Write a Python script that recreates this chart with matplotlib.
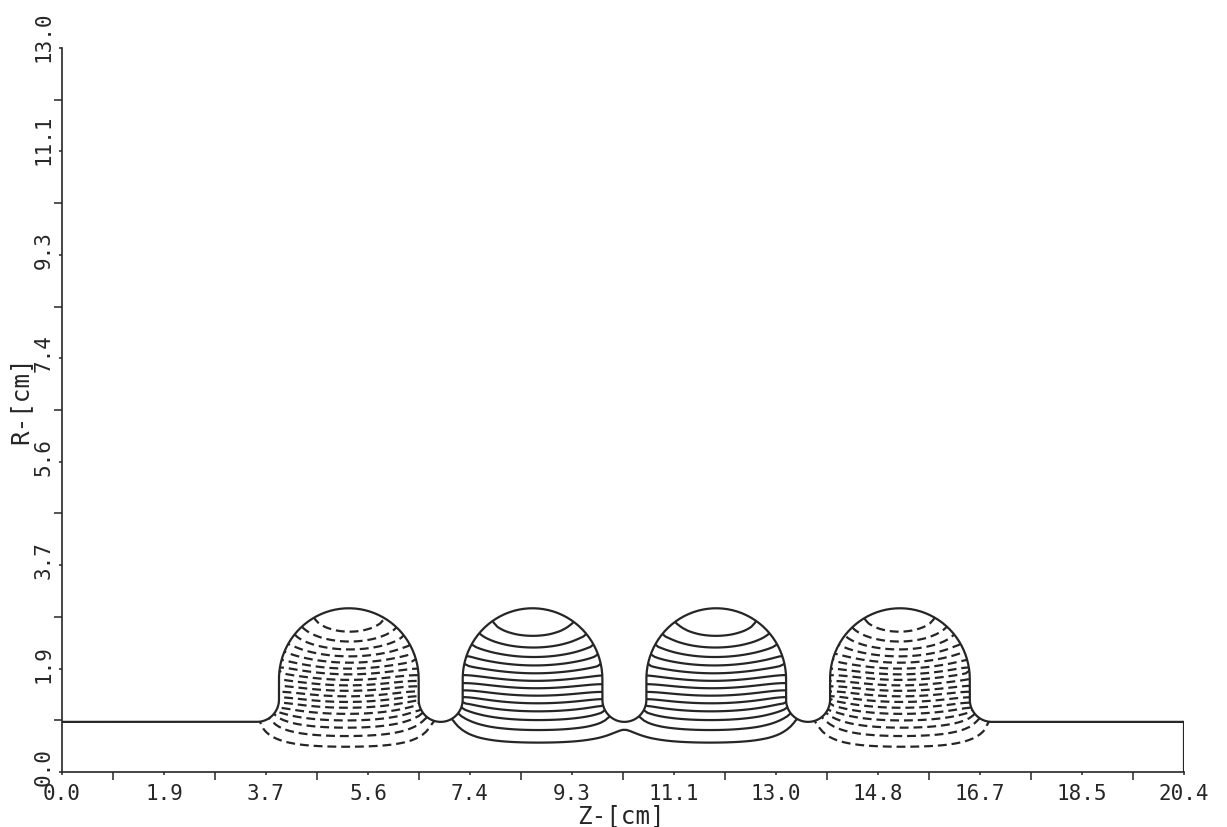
import numpy as np
import matplotlib.pyplot as plt
from matplotlib.patches import Polygon
from matplotlib import transforms

# cavity geometry, cm
pipe_r = 0.90                     # beam pipe radius
iris_z = np.array([3.545, 6.885, 10.225, 13.565, 16.905])
cell_z = np.array([5.215, 8.555, 11.895, 15.235])
dome_a = 1.27                     # half width of each cell dome
dome_top = 2.94                   # equator radius
nose_rho = 0.40                   # iris nose radius
z_end = 20.4

# number of field lines drawn for each sign
n_pos = 13   # solid, cells 2 and 3
n_neg = 18   # dashed, cells 1 and 4

x_ticks = np.linspace(0, 20.4, 12)
x_labels = ['0.0', '1.9', '3.7', '5.6', '7.4', '9.3', '11.1', '13.0',
            '14.8', '16.7', '18.5', '20.4']
y_ticks = np.linspace(0, 13.0, 8)
y_labels = ['0.0', '1.9', '3.7', '5.6', '7.4', '9.3', '11.1', '13.0']

ink = '#262626'
plt.rcParams['font.family'] = ['DejaVu Sans Mono', 'DejaVu Sans']

dome_rc = dome_top - dome_a
nose_rc = pipe_r + nose_rho


def wall_r(z):
    R = np.full_like(z, pipe_r, dtype=float)
    for c in cell_z:
        d = np.abs(z - c)
        m = d <= dome_a
        R[m] = dome_rc + np.sqrt(dome_a**2 - d[m]**2)
    for zi in iris_z:
        d = np.abs(z - zi)
        m = d < nose_rho
        R[m] = nose_rc - np.sqrt(nose_rho**2 - d[m]**2)
    R[(z < iris_z[0]) | (z > iris_z[-1])] = pipe_r
    return R


# outline of the cavity wall
pts = [(0.0, pipe_r)]
t = np.linspace(-np.pi / 2, 0, 20)
pts += list(zip(iris_z[0] + nose_rho * np.cos(t), nose_rc + nose_rho * np.sin(t)))
for k, c in enumerate(cell_z):
    th = np.linspace(np.pi, 0, 90)
    pts += list(zip(c + dome_a * np.cos(th), dome_rc + dome_a * np.sin(th)))
    zi = iris_z[k + 1]
    if k < len(cell_z) - 1:
        t = np.linspace(np.pi, 2 * np.pi, 40)
    else:
        t = np.linspace(np.pi, 1.5 * np.pi, 20)
    pts += list(zip(zi + nose_rho * np.cos(t), nose_rc + nose_rho * np.sin(t)))
pts += [(z_end, pipe_r), (z_end, 0.0)]
pts = np.array(pts)

# TM0 mode: -div((1/r) grad psi) = k^2 psi / r, psi = r*H_phi,
# solved on half of the structure (mirror plane at the middle iris)
h = 0.065
zmid = iris_z[2]
nz = int((zmid - 1.2) / h)
zn = zmid - h / 2 - h * np.arange(nz)[::-1]
rn = h * np.arange(int(3.4 / h))
nr = len(rn)
Zg, Rg = np.meshgrid(zn, rn, indexing='ij')
inside = (Rg < wall_r(Zg)) & (Rg > 0)
n = inside.sum()
idx = -np.ones(Zg.shape, dtype=int)
idx[inside] = np.arange(n)
ii, jj = np.nonzero(inside)
rows = idx[ii, jj]

K = np.zeros((n, n))
for di in (-1, 1):
    ni = ii + di
    ok = (ni >= 0) & (ni < nz)
    nb = np.where(ok, idx[np.clip(ni, 0, nz - 1), jj], -1)
    w = 1.0 / rn[jj]
    has = nb >= 0
    K[rows[has], rows[has]] += w[has]
    K[rows[has], nb[has]] -= w[has]
for dj in (-1, 1):
    nj = jj + dj
    w = 1.0 / (rn[jj] + dj * h / 2)
    axis = nj == 0
    K[rows[axis], rows[axis]] += w[axis]
    nb = idx[ii, np.clip(nj, 0, nr - 1)]
    has = (nb >= 0) & (nj >= 1) & (nj < nr)
    K[rows[has], rows[has]] += w[has]
    K[rows[has], nb[has]] -= w[has]

sq = np.sqrt(rn[jj])
evals, evecs = np.linalg.eigh(K * sq[:, None] * sq[None, :])

i1 = np.argmin(np.abs(zn - cell_z[0]))
i2 = np.argmin(np.abs(zn - cell_z[1]))
j0 = np.argmin(np.abs(rn - 2.0))
for k in range(8):
    P = np.zeros(Zg.shape)
    P[inside] = sq * evecs[:, k]
    if P[i1, j0] * P[i2, j0] < 0:
        break
if P[i2, j0] < 0:
    P = -P

# extend the field a few cells past the wall (zero normal derivative)
filled = inside.copy()
filled[:, 0] = True
for _ in range(6):
    s = np.zeros_like(P)
    c = np.zeros_like(P)
    for sh, a in ((1, 0), (-1, 0), (1, 1), (-1, 1)):
        s += np.roll(P * filled, sh, axis=a)
        c += np.roll(filled.astype(float), sh, axis=a)
    new = (~filled) & (c > 0)
    P[new] = s[new] / c[new]
    filled |= new

pos_max = P[inside].max()
neg_min = P[inside].min()

Zf = np.concatenate([zn, 2 * zmid - zn[::-1]])
Pf = np.concatenate([P, P[::-1, :]], axis=0)
Zfg, Rfg = np.meshgrid(Zf, rn, indexing='ij')

pos_levels = pos_max * np.arange(1, n_pos + 1) / (n_pos + 1.1)
neg_levels = neg_min * np.arange(n_neg, 0, -1) / (n_neg + 1.1)

fig = plt.figure(figsize=(12.27, 8.28), dpi=100)
ax = fig.add_axes([62 / 1227, 55 / 828, 1122 / 1227, 724 / 828])

clip = Polygon(np.vstack([pts, [(0.0, 0.0)]]), closed=True,
               transform=ax.transData, facecolor='none', edgecolor='none')

cs1 = ax.contour(Zfg, Rfg, Pf, levels=pos_levels, colors=ink, linewidths=1.6,
                 linestyles='solid')
cs2 = ax.contour(Zfg, Rfg, Pf, levels=neg_levels, colors=ink, linewidths=1.6,
                 linestyles=[(0, (4.0, 2.2))])
cs1.set_clip_path(clip)
cs2.set_clip_path(clip)

ax.plot(pts[:, 0], pts[:, 1], color=ink, lw=1.6)

ax.set_xlim(0, 20.4)
ax.set_ylim(0, 13.0)
for side in ('top', 'right'):
    ax.spines[side].set_visible(False)
for side in ('left', 'bottom'):
    ax.spines[side].set_color(ink)
    ax.spines[side].set_linewidth(1.2)

ax.set_xticks(x_ticks, x_labels, fontsize=15, color=ink)
ax.set_xticks((x_ticks[:-1] + x_ticks[1:]) / 2, minor=True)
ax.set_yticks(y_ticks, [''] * len(y_ticks))
ax.set_yticks((y_ticks[:-1] + y_ticks[1:]) / 2, minor=True)
ax.tick_params(which='major', length=2.5, width=1.1, direction='out',
               color=ink, pad=5.5)
ax.tick_params(which='minor', length=6, width=1.1, direction='out', color=ink)

ytr = transforms.blended_transform_factory(ax.transAxes, ax.transData) + \
    transforms.ScaledTranslation(-0.18, -0.13, fig.dpi_scale_trans)
for yv, lab in zip(y_ticks, y_labels):
    ax.text(0, yv, lab, transform=ytr, rotation=90, rotation_mode='anchor',
            ha='left', va='center', fontsize=15, color=ink)

ax.set_xlabel('Z-[cm]', fontsize=17.5, color=ink, va='center')
ax.xaxis.set_label_coords(0.498, -0.059)
ax.set_ylabel('R-[cm]', fontsize=17.5, color=ink, va='center')
ax.yaxis.set_label_coords(-0.037, 0.515)

fig.savefig('out.png', dpi=100)
